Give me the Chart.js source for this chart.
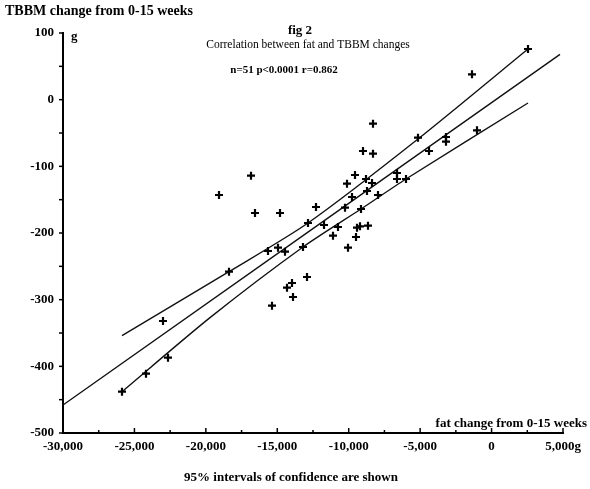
<!DOCTYPE html>
<html lang="en">
<head>
<meta charset="UTF-8">
<title>fig 2</title>
<style>
  body { margin: 0; background: #fff; }
  .wrap { width: 590px; height: 489px; }
</style>
</head>
<body>
<div class="wrap"><canvas id="fig2" width="590" height="489"></canvas></div>
<script src="https://cdn.jsdelivr.net/npm/chart.js"></script>
<script>
// fat change (g) vs TBBM change (g)
var fatChange = [2550, -1370, -1020, -3190, -3190, -5150, -4380, -8300, -9000, -8300,
                 -6620, -6620, -5990, -9560, -10120, -8790, -8370, -8720, -9770, -7950,
                 -12290, -10260, -9140, -12850, -11730, -10750, -9420, -9210, -8650, -11100,
                 -9490, -16840, -19080, -16560, -14810, -10050, -15650, -14950, -14460, -13200,
                 -18380, -12920, -13970, -14320, -13900, -15370, -23000, -22650, -24190, -25870];
var tbbmChange = [76, 38, -46, -56, -63, -57, -77, -36, -77, -81,
                  -110, -119, -119, -113, -126, -119, -125, -137, -146, -143,
                  -161, -162, -164, -185, -188, -191, -192, -190, -189, -204,
                  -206, -114, -143, -170, -170, -222, -227, -222, -228, -221,
                  -258, -266, -275, -282, -296, -309, -332, -387, -411, -438];

// regression line and 95% confidence bands
var regX = [-30000, 4790];
var regY = [-458, 68];
var upperX = [-25870, -18380, -12850, -5150, 2550];
var upperY = [-354, -258, -185, -59, 76];
var lowerX = [-25870, -19710, -13200, -9140, -5990, 2550];
var lowerY = [-438, -327, -221, -164, -119, -5];

var xTicks = [-30000, -25000, -20000, -15000, -10000, -5000, 0, 5000];
var yTicks = [100, 0, -100, -200, -300, -400, -500];

function pts(xs, ys) {
    var out = [];
    for (let i = 0; i < xs.length; i++) out.push({x: xs[i], y: ys[i]});
    return out;
}

var serif = '"Liberation Serif", "Times New Roman", serif';

function lineSet(xs, ys) {
    return {
        data: pts(xs, ys),
        showLine: true,
        borderColor: '#111',
        borderWidth: 1.4,
        pointRadius: 0,
        tension: 0.25,
        fill: false
    };
}

// tick marks + the loose texts of the figure
const figText = {
    id: 'figText',
    afterDraw(chart) {
        const c = chart.ctx;
        const xs = chart.scales.x, ys = chart.scales.y;
        c.save();
        c.strokeStyle = '#000';
        c.lineWidth = 1.5;
        for (let v = -30000; v <= 5000; v += 2500) {
            const p = xs.getPixelForValue(v);
            const len = (v % 5000 === 0) ? 5 : 3;
            c.beginPath();
            c.moveTo(p, xs.top);
            c.lineTo(p, xs.top - len);
            c.stroke();
        }
        for (let v = -500; v <= 100; v += 50) {
            const p = ys.getPixelForValue(v);
            c.beginPath();
            c.moveTo(ys.right, p);
            c.lineTo(ys.right - 4, p);
            c.stroke();
        }
        c.fillStyle = '#000';
        c.textBaseline = 'middle';
        c.textAlign = 'left';
        c.font = 'bold 14px ' + serif;
        c.fillText('TBBM change from 0-15 weeks', 5, 11);
        c.font = 'bold 13px ' + serif;
        c.fillText('g', ys.right + 8, 37);
        c.textAlign = 'center';
        c.fillText('fig 2', 300, 31);
        c.font = '11.5px ' + serif;
        c.fillText('Correlation between fat and TBBM changes', 308, 45);
        c.font = 'bold 11px ' + serif;
        c.fillText('n=51 p<0.0001 r=0.862', 284, 70);
        c.font = 'bold 13px ' + serif;
        c.fillText('95% intervals of confidence are shown', 291, 478);
        c.textAlign = 'right';
        c.fillText('fat change from 0-15 weeks', 587, 424);
        c.restore();
    }
};

function drawFig() {
    const ctx = document.getElementById('fig2').getContext('2d');
    const data = {
        datasets: [
            {
                data: pts(fatChange, tbbmChange),
                pointStyle: 'cross',
                pointRadius: 4,
                pointBorderWidth: 2.2,
                borderColor: '#000',
                backgroundColor: '#000',
                showLine: false
            },
            lineSet(regX, regY),
            lineSet(upperX, upperY),
            lineSet(lowerX, lowerY)
        ]
    };
    const config = {
        type: 'scatter',
        data: data,
        options: {
            responsive: false,
            animation: false,
            layout: { padding: { top: 33, right: 27, left: 0, bottom: 0 } },
            plugins: {
                legend: { display: false },
                tooltip: { enabled: false }
            },
            scales: {
                x: {
                    type: 'linear',
                    min: -30000,
                    max: 5000,
                    afterFit: (s) => { s.height = 56; },
                    afterBuildTicks: (s) => { s.ticks = xTicks.map(v => ({value: v})); },
                    grid: { display: false, drawTicks: false },
                    border: { display: true, color: '#000', width: 2 },
                    ticks: {
                        autoSkip: false,
                        maxRotation: 0,
                        padding: 6,
                        color: '#000',
                        font: { family: serif, size: 13, weight: 'bold' },
                        callback: (v) => {
                            const s = Number(v).toLocaleString('en-US');
                            return v === 5000 ? s + 'g' : s;
                        }
                    }
                },
                y: {
                    type: 'linear',
                    min: -500,
                    max: 100,
                    afterFit: (s) => { s.width = 63; },
                    afterBuildTicks: (s) => { s.ticks = yTicks.map(v => ({value: v})); },
                    grid: { display: false, drawTicks: false },
                    border: { display: true, color: '#000', width: 2 },
                    ticks: {
                        padding: 9,
                        color: '#000',
                        font: { family: serif, size: 13, weight: 'bold' }
                    }
                }
            }
        },
        plugins: [figText]
    };
    new Chart(ctx, config);
}

drawFig()
</script>
</body>
</html>
